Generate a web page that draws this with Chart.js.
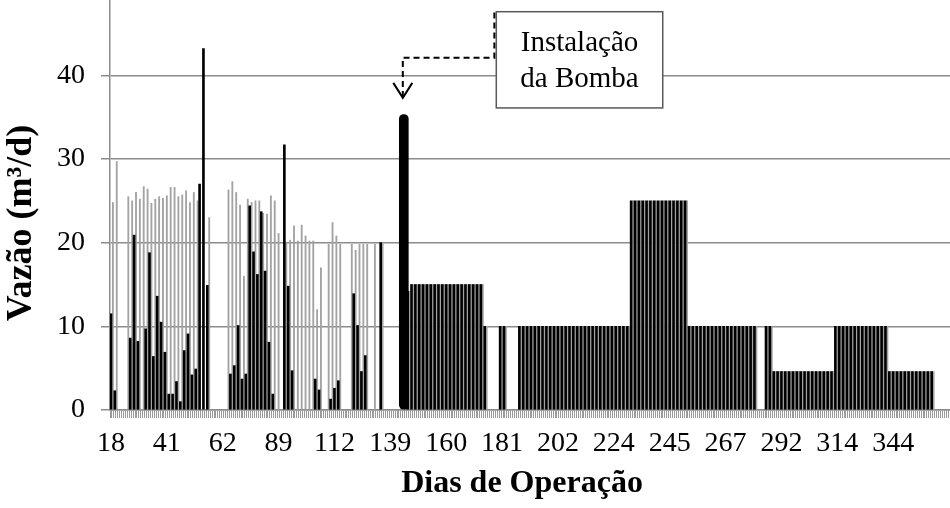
<!DOCTYPE html>
<html><head><meta charset="utf-8">
<script src="https://cdn.jsdelivr.net/npm/chart.js@4.4.1/dist/chart.umd.min.js"></script>
<style>html,body{margin:0;padding:0;background:#fff;}#wrap{width:950px;height:508px;}</style>
</head><body><div id="wrap"><canvas id="c" width="950" height="508"></canvas></div>
<script>
// ---- data ----
const tickDays = [18, 41, 62, 89, 112, 139, 160, 181, 202, 224, 245, 267, 292, 314, 344];
const labelStep = 29;
const categoryCount = 436;

// pairs 0..76 (before pump installation): darker series
const darkEarly = [
  11.5, 2.3, null, null, null, 8.6, 20.9, 8.2, null, 9.7,
  18.8, 6.4, 13.6, 10.5, 6.9, 1.9, 1.9, 3.4, 1.0, 7.1,
  9.1, 4.2, 4.9, 27.0, 43.2, 14.9, null, null, null, null,
  null, 4.3, 5.3, 10.1, 3.7, 4.3, 24.4, 18.9, 16.2, 23.7,
  16.6, 8.1, 1.9, null, null, 31.7, 14.8, 4.7, null, null,
  null, null, null, 3.7, 2.4, null, null, 1.3, 2.6, 3.5,
  null, null, null, 13.9, 10.1, 4.6, 6.5, null, null, null,
  20.0, null, null, null, null, null, null
];
// pairs 0..76: lighter series
const grayEarly = [
  24.8, 29.7, null, null, 25.5, 25.0, 26.0, 25.2, 26.7, 26.4,
  24.7, 25.2, 25.5, 25.3, 25.6, 26.6, 26.6, 25.5, 25.7, 26.2,
  24.8, 26.0, 25.0, null, null, 23.0, null, null, null, null,
  26.3, 27.3, 26.0, 24.5, 16.0, 25.2, 24.8, 25.0, 25.0, 23.5,
  23.4, 25.6, 25.0, 21.1, null, 20.0, 20.3, 22.0, 20.2, 22.1,
  20.8, 20.2, 20.2, 12.0, 17.0, null, 19.8, 22.4, 20.8, 19.8,
  null, null, 19.8, 19.1, 19.8, 19.8, 19.8, null, 19.8, null,
  20.0, null, null, null, null, null, null
];
// pairs 77..217 (after pump installation), both series
const afterPump = [
  14.2, 15, 15,
  15, 15, 15, 15, 15, 15, 15, 15, 15, 15,
  15, 15, 15, 15, 15, 15, 15, 10, null, null,
  null, 10, 10, null, null, null, 10, 10, 10, 10,
  10, 10, 10, 10, 10, 10, 10, 10, 10, 10,
  10, 10, 10, 10, 10, 10, 10, 10, 10, 10,
  10, 10, 10, 10, 10, 25, 25, 25, 25, 25,
  25, 25, 25, 25, 25, 25, 25, 25, 25, 25,
  10, 10, 10, 10, 10, 10, 10, 10, 10, 10,
  10, 10, 10, 10, 10, 10, 10, 10, null, null,
  10, 10, 4.6, 4.6, 4.6, 4.6, 4.6, 4.6, 4.6, 4.6,
  4.6, 4.6, 4.6, 4.6, 4.6, 4.6, 4.6, 4.6, 10, 10,
  10, 10, 10, 10, 10, 10, 10, 10, 10, 10,
  10, 10, 4.6, 4.6, 4.6, 4.6, 4.6, 4.6, 4.6, 4.6,
  4.6, 4.6, 4.6, 4.6, null, null, null, null
];
const pumpIndex = 152;
const pumpFlow = [35.3];
const noteLines = ['Instalação', 'da Bomba'];

// ---- build library tables ----
const categories = Array.from({length: categoryCount}, (_, i) =>
  (i % labelStep === 0 && i / labelStep < tickDays.length) ? String(tickDays[i / labelStep]) : '');
const darkPairs = darkEarly.concat(afterPump);
const grayPairs = grayEarly.concat(afterPump);
const darkData = new Array(categoryCount).fill(null);
const grayData = new Array(categoryCount).fill(null);
darkPairs.forEach((v, p) => { darkData[2 * p] = v; });
grayPairs.forEach((v, p) => { grayData[2 * p + 1] = v; });
const pumpData = new Array(categoryCount).fill(null);
pumpData[pumpIndex] = pumpFlow[0];

const serif = 'Liberation Serif';

const annot = {
  id: 'annot',
  afterDraw(chart) {
    const {ctx, scales: {x, y}} = chart;
    const tipX = x.getPixelForValue(pumpIndex) - 1;
    const tipY = y.getPixelForValue(37.3);
    const elbowY = y.getPixelForValue(42.1);
    const leadX = x.getPixelForValue(199);
    const leadTop = y.getPixelForValue(47.5);
    const bl = x.getPixelForValue(200), br = x.getPixelForValue(286.4);
    const bt = y.getPixelForValue(47.6), bb = y.getPixelForValue(36.1);
    ctx.save();
    ctx.fillStyle = '#fff';
    ctx.fillRect(bl, bt, br - bl, bb - bt);
    ctx.strokeStyle = '#595959';
    ctx.lineWidth = 1.5;
    ctx.strokeRect(bl, bt, br - bl, bb - bt);
    ctx.strokeStyle = '#000';
    ctx.lineWidth = 2;
    ctx.setLineDash([6, 4]);
    ctx.beginPath();
    ctx.moveTo(leadX, leadTop);
    ctx.lineTo(leadX, elbowY);
    ctx.lineTo(tipX, elbowY);
    ctx.lineTo(tipX, tipY - 2);
    ctx.stroke();
    ctx.setLineDash([]);
    ctx.beginPath();
    ctx.moveTo(tipX - 9.5, tipY - 15);
    ctx.lineTo(tipX, tipY);
    ctx.lineTo(tipX + 9.5, tipY - 15);
    ctx.stroke();
    ctx.fillStyle = '#000';
    ctx.font = '29px "' + serif + '"';
    ctx.textAlign = 'center';
    ctx.textBaseline = 'middle';
    const cx = (bl + br) / 2, h = bb - bt;
    ctx.fillText(noteLines[0], cx, bt + 0.325 * h);
    ctx.fillText(noteLines[1], cx, bt + 0.70 * h);
    ctx.restore();
  }
};

new Chart(document.getElementById('c'), {
  type: 'bar',
  data: {
    labels: categories,
    datasets: [
      {label: 'pump', data: pumpData, backgroundColor: '#000', barThickness: 9,
       borderRadius: 5, borderSkipped: false, grouped: false, order: 0},
      {label: 'dark', data: darkData, backgroundColor: '#000', barThickness: 2,
       grouped: false, order: 1},
      {label: 'gray', data: grayData, backgroundColor: '#a3a3a3', barThickness: 1.2,
       grouped: false, order: 2}
    ]
  },
  options: {
    responsive: false,
    devicePixelRatio: 1,
    animation: false,
    layout: {padding: 0},
    plugins: {legend: {display: false}, tooltip: {enabled: false}},
    scales: {
      x: {
        offset: true,
        ticks: {autoSkip: false, maxRotation: 0, minRotation: 0,
                font: {family: serif, size: 28}, color: '#000', padding: 9},
        grid: {display: true, drawOnChartArea: false, drawTicks: true, tickLength: 8,
               color: '#9a9a9a', lineWidth: 1, offset: true},
        border: {display: true, color: '#8c8c8c', width: 1.5},
        title: {display: true, text: 'Dias de Operação  ',
                font: {family: serif, size: 32, weight: 'bold'}, color: '#000',
                padding: {top: 0, bottom: 5}},
        afterFit: s => { s.height = 98; s.paddingLeft = 0; s.paddingRight = 0; }
      },
      y: {
        min: 0, max: 49,
        afterBuildTicks: s => { s.ticks = s.ticks.filter(t => t.value % 10 === 0); },
        ticks: {stepSize: 10, font: {family: serif, size: 28}, color: '#000', padding: 16},
        grid: {color: '#8c8c8c', lineWidth: 1.5, tickLength: 9, drawTicks: true},
        border: {display: true, color: '#8c8c8c', width: 1.5},
        title: {display: true, text: 'Vazão (m³/d)    ',
                font: {family: serif, size: 36, weight: 'bold'}, color: '#000',
                padding: {top: 0, bottom: 0}},
        afterFit: s => { s.width = 110; s.paddingTop = 0; s.paddingBottom = 0; }
      }
    }
  },
  plugins: [annot]
});
</script>
</body></html>
